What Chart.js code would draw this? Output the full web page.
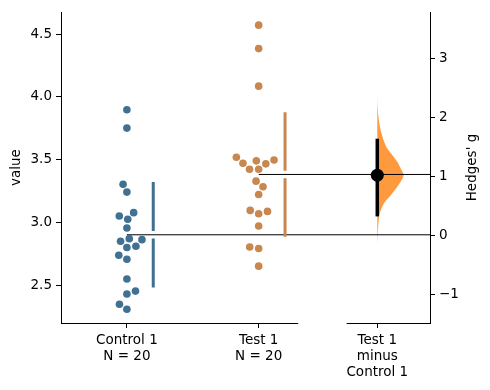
<!DOCTYPE html>
<html>
<head>
<meta charset="utf-8">
<script src="https://cdn.jsdelivr.net/npm/chart.js@4"></script>
<style>
  html, body { margin: 0; padding: 0; background: #fff; }
  canvas { display: block; }
</style>
</head>
<body>
<canvas id="myChart" width="490" height="390"></canvas>
<script>
// data
const groupNames = ["Control 1", "Test 1"];
const groupN = [20, 20];
const control1 = [3.897, 3.751, 3.304, 3.241, 3.077, 3.05, 3.024, 2.955, 2.849, 2.862,
  2.87, 2.799, 2.81, 2.738, 2.706, 2.548, 2.429, 2.452, 2.347, 2.307];
const test1 = [4.571, 4.384, 4.085, 3.519, 3.471, 3.49, 3.466, 3.497, 3.423, 3.423,
  3.328, 3.283, 3.222, 3.087, 3.069, 3.095, 2.971, 2.804, 2.791, 2.651];
const valueTicks = [2.5, 3.0, 3.5, 4.0, 4.5];
const gTicks = [-1, 0, 1, 2, 3];

// Hedges' g and its bootstrap distribution
const hedgesG = 1.02;
const hedgesCI = [0.32, 1.64];
const bootG = [-0.15, 0.0, 0.17, 0.34, 0.45, 0.56, 0.68, 0.79, 0.9, 0.97, 1.03,
  1.13, 1.24, 1.36, 1.47, 1.55, 1.64, 1.72, 1.81, 1.9, 2.03, 2.2, 2.4];
const bootDensity = [0, 0.4, 1, 2, 4, 7.3, 13.3, 18.3, 22.7, 25, 26,
  23.3, 20, 15, 10, 7.7, 5.7, 4.3, 3, 2, 1, 0.3, 0];

// layout
const xMin = -0.5, xMax = 2.3, rawRight = 1.3, diffLeft = 1.667, diffX = 1.9;
const gapX = 0.2, gapHalf = 0.03, violinWidth = 0.2;
const colors = ["rgb(64, 112, 146)", "rgb(199, 135, 78)"];
const violinColor = "rgb(255, 153, 62)";
const FONT = { family: "DejaVu Sans", size: 13.5, lineHeight: 1.2 };

function mean(a) { return a.reduce((s, v) => s + v, 0) / a.length; }
function sd(a) {
  const m = mean(a);
  return Math.sqrt(a.reduce((s, v) => s + (v - m) * (v - m), 0) / (a.length - 1));
}

const groupsData = [control1, test1];
const means = groupsData.map(mean);
const sds = groupsData.map(sd);

const xLabels = [
  [groupNames[0], "N = " + groupN[0]],
  [groupNames[1], "N = " + groupN[1]],
  [groupNames[1], "minus", groupNames[0]],
];

function gapBar(i) {
  const x = i + gapX, m = means[i], s = sds[i];
  return [{ x, y: m + s }, { x, y: m + gapHalf }, { x, y: null }, { x, y: m - gapHalf }, { x, y: m - s }];
}

const vMax = Math.max(...bootDensity);
const violinData = bootG.map((g, i) => ({ x: diffX + bootDensity[i] / vMax * violinWidth, y: g }));

const datasets = [
  { type: "scatter", data: groupsData[0].map(v => ({ x: 0, y: v })), yAxisID: "y",
    pointRadius: 3.8, pointBackgroundColor: colors[0], pointBorderWidth: 0, order: 3 },
  { type: "scatter", data: groupsData[1].map(v => ({ x: 1, y: v })), yAxisID: "y",
    pointRadius: 3.8, pointBackgroundColor: colors[1], pointBorderWidth: 0, order: 3 },
  { type: "line", data: gapBar(0), yAxisID: "y", borderColor: colors[0], borderWidth: 3,
    pointRadius: 0, spanGaps: false, borderCapStyle: "butt", order: 4 },
  { type: "line", data: gapBar(1), yAxisID: "y", borderColor: colors[1], borderWidth: 3,
    pointRadius: 0, spanGaps: false, borderCapStyle: "butt", order: 4 },
  { type: "line", indexAxis: "y", data: violinData, yAxisID: "y2", backgroundColor: violinColor,
    borderWidth: 0, borderColor: "rgba(0,0,0,0)", pointRadius: 0, fill: "shape", tension: 0.3, order: 10 },
  { type: "line", data: [{ x: 0, y: means[0] }, { x: xMax, y: means[0] }], yAxisID: "y",
    borderColor: "#000", borderWidth: 1, pointRadius: 0, order: 5 },
  { type: "line", data: [{ x: 1, y: means[1] }, { x: xMax, y: means[1] }], yAxisID: "y",
    borderColor: "#000", borderWidth: 1, pointRadius: 0, order: 5 },
  { type: "line", data: [{ x: diffX, y: hedgesCI[0] }, { x: diffX, y: hedgesCI[1] }], yAxisID: "y2",
    borderColor: "#000", borderWidth: 3.5, pointRadius: 0, borderCapStyle: "butt", order: 2 },
  { type: "scatter", data: [{ x: diffX, y: hedgesG }], yAxisID: "y2",
    pointRadius: 6.5, pointBackgroundColor: "#000", pointBorderWidth: 0, order: 1 },
];

// bottom spines (broken between the two panels) and axis titles
const decorations = {
  id: "decorations",
  afterDraw(chart) {
    const { ctx, chartArea, scales } = chart;
    const x = scales.x;
    ctx.save();
    ctx.strokeStyle = "#000";
    ctx.lineWidth = 1;
    [[xMin, rawRight], [diffLeft, xMax]].forEach(([a, b]) => {
      ctx.beginPath();
      ctx.moveTo(x.getPixelForValue(a), chartArea.bottom + 0.5);
      ctx.lineTo(x.getPixelForValue(b), chartArea.bottom + 0.5);
      ctx.stroke();
    });
    ctx.fillStyle = "#000";
    ctx.font = FONT.size + "px " + FONT.family;
    ctx.textAlign = "center";
    ctx.textBaseline = "middle";
    const midY = (chartArea.top + chartArea.bottom) / 2;
    [["value", 16], ["Hedges' g", 472]].forEach(([t, px]) => {
      ctx.save();
      ctx.translate(px, midY);
      ctx.rotate(-Math.PI / 2);
      ctx.fillText(t, 0, 0);
      ctx.restore();
    });
    ctx.restore();
  },
};

Chart.defaults.color = "#000";
Chart.defaults.font.family = FONT.family;
Chart.defaults.font.size = FONT.size;

const tickGrid = { display: true, drawOnChartArea: false, drawTicks: true, tickLength: 5, color: "#000" };

const chart = new Chart(document.getElementById("myChart").getContext("2d"), {
  type: "scatter",
  data: { datasets },
  options: {
    responsive: false,
    animation: false,
    events: [],
    layout: { padding: { top: 11, left: 0, right: 0, bottom: 0 } },
    plugins: { legend: { display: false }, tooltip: { enabled: false } },
    scales: {
      x: {
        type: "linear", min: xMin, max: xMax,
        grid: tickGrid, border: { display: false },
        afterBuildTicks: (s) => { s.ticks = [0, 1, diffX].map(v => ({ value: v })); },
        ticks: { font: FONT, padding: 4, maxRotation: 0, autoSkip: false,
          callback: (v, i) => xLabels[i] },
        afterFit: (s) => { s.height = 67; },
      },
      y: {
        type: "linear", position: "left", min: 2.198, max: 4.675,
        grid: tickGrid, border: { display: true, color: "#000", width: 1 },
        afterBuildTicks: (s) => { s.ticks = valueTicks.map(v => ({ value: v })); },
        ticks: { font: FONT, padding: 4, callback: (v) => Number(v).toFixed(1) },
        afterFit: (s) => { s.width = 61; },
      },
      y2: {
        type: "linear", position: "right", min: -1.49, max: 3.79,
        grid: tickGrid, border: { display: true, color: "#000", width: 1 },
        afterBuildTicks: (s) => { s.ticks = gTicks.map(v => ({ value: v })); },
        ticks: { font: FONT, padding: 4, callback: (v) => (v < 0 ? "\u2212" + Math.abs(v) : String(v)) },
        afterFit: (s) => { s.width = 60; },
      },
    },
  },
  plugins: [decorations],
});

// swarm layout (seaborn style) in pixel space, then back to data units
function swarm(values, center, d) {
  const xs = chart.scales.x, ys = chart.scales.y;
  const cx = xs.getPixelForValue(center);
  const pts = values.map(v => ({ v, y: ys.getPixelForValue(v), x: cx }));
  const order = pts.slice().sort((a, b) => a.v - b.v);
  const placed = [];
  let leftFirst = true;
  order.forEach((p) => {
    const nb = [];
    for (let j = placed.length - 1; j >= 0; j--) {
      if (Math.abs(p.y - placed[j].y) < d) nb.unshift(placed[j]);
      else break;
    }
    const cands = [cx];
    let lf = leftFirst;
    nb.forEach(q => {
      const dy = p.y - q.y;
      const dx = Math.sqrt(Math.max(d * d - dy * dy, 0)) * 1.05;
      if (lf) cands.push(q.x - dx, q.x + dx); else cands.push(q.x + dx, q.x - dx);
      lf = !lf;
    });
    const sorted = cands.map((x, k) => ({ x, k, off: Math.abs(x - cx) }))
      .sort((a, b) => (Math.abs(a.off - b.off) < 1e-6 ? a.k - b.k : a.off - b.off));
    for (const c of sorted) {
      if (nb.every(q => Math.hypot(c.x - q.x, p.y - q.y) >= d - 0.01)) {
        p.x = c.x;
        // flip side preference only when a mirror candidate tied with the chosen one
        if (c.off > 1e-6 && sorted.some(o => o.k !== c.k && Math.abs(o.off - c.off) < 1e-6)) {
          leftFirst = !leftFirst;
        }
        break;
      }
    }
    placed.push(p);
  });
  return pts.map(p => ({ x: xs.getValueForPixel(p.x), y: p.v }));
}

chart.data.datasets[0].data = swarm(control1, 0, 8.7);
chart.data.datasets[1].data = swarm(test1, 1, 8.7);
chart.update("none");
</script>
</body>
</html>
